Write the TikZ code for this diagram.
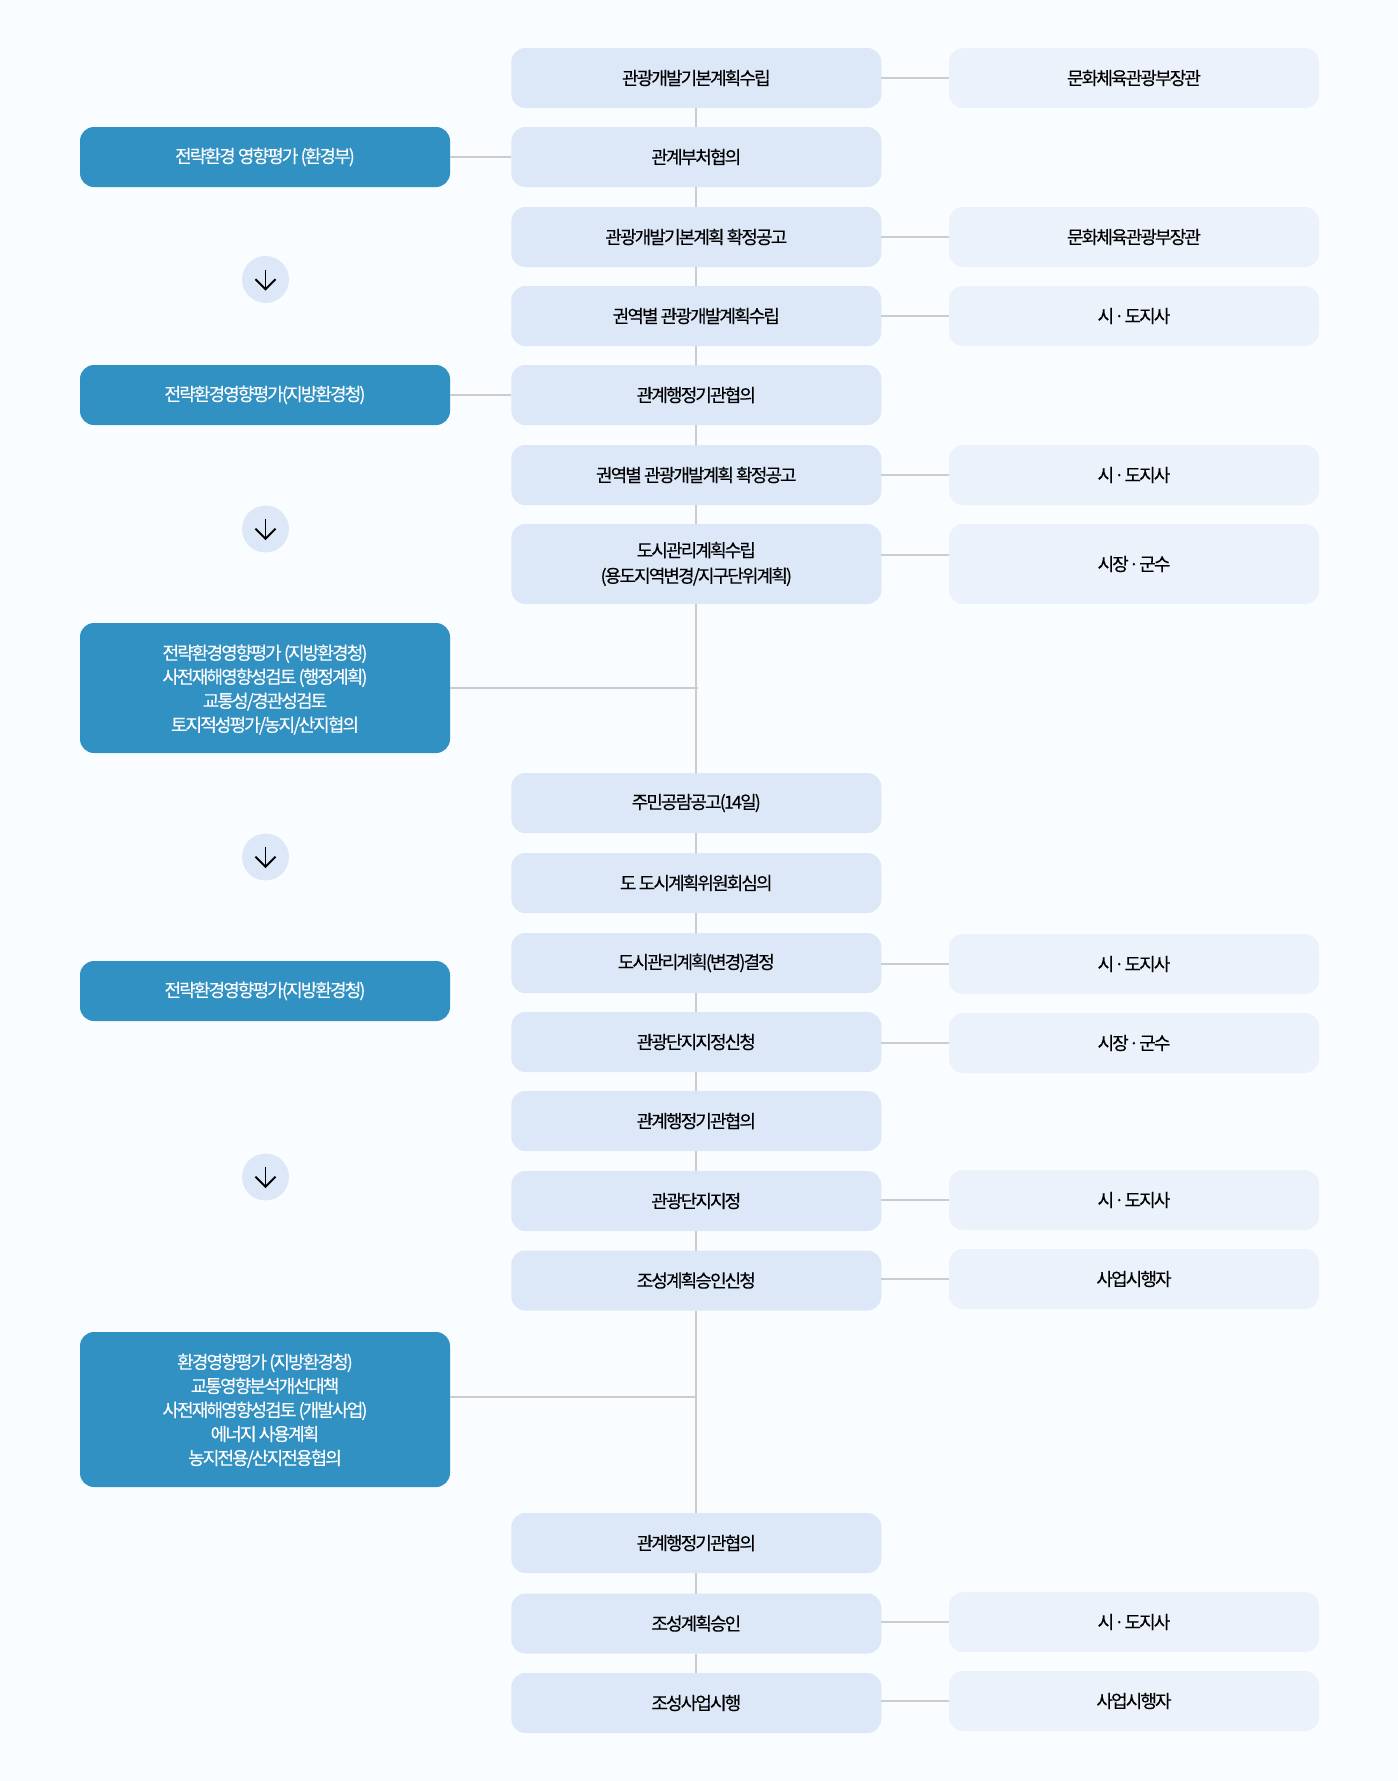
\documentclass[tikz,border=0pt]{standalone}
\usepackage{fontspec}
\setmainfont{Noto Sans CJK KR}[LetterSpace=-10.5,FakeBold=0.2]
\usetikzlibrary{arrows.meta}
\definecolor{pagebg}{HTML}{FAFDFF}
\definecolor{reviewblue}{HTML}{3291C3}
\definecolor{stageblue}{HTML}{DCE8F7}
\definecolor{agencyblue}{HTML}{ECF2FB}
\definecolor{linegray}{HTML}{CCCCCC}
\newcommand{\midsep}{\hspace{-2pt} · \hspace{-2pt}}
\begin{document}
\begin{tikzpicture}[x=1pt,y=-1pt]
        \tikzstyle{box}=[rectangle,rounded corners=14pt,minimum width=370pt,minimum height=60pt,inner sep=0pt,outer sep=0pt,align=center,font=\fontsize{18}{24}\selectfont]
        \tikzstyle{stage}=[box,fill=stageblue,text=black]
        \tikzstyle{agency}=[box,fill=agencyblue,text=black]
        \tikzstyle{review}=[box,fill=reviewblue,text=white]
        \tikzstyle{turn}=[circle,fill=stageblue,minimum size=47pt,inner sep=0pt,outer sep=0pt]
        \tikzstyle{link}=[draw=linegray,line width=2pt]
        \tikzstyle{down}=[draw=black,line width=1.8pt,-{Straight Barb[length=10pt,width=20pt]}]
       \useasboundingbox (0,0) rectangle (1398,1781);
       \fill[pagebg] (0,0) rectangle (1398,1781);
       \begin{scope}
         % middle column
         \node [stage] (c1) at (696.3,78) {\raisebox{-1pt}{관광개발기본계획수립}};
         \node [stage] (c2) at (696.3,157) {\raisebox{-1pt}{관계부처협의}};
         \node [stage] (c3) at (696.3,237) {\raisebox{-1pt}{관광개발기본계획 확정공고}};
         \node [stage] (c4) at (696.3,316) {\raisebox{-1pt}{권역별 관광개발계획수립}};
         \node [stage] (c5) at (696.3,395) {\raisebox{-1pt}{관계행정기관협의}};
         \node [stage] (c6) at (696.3,475) {\raisebox{-1pt}{권역별 관광개발계획 확정공고}};
         \node [stage,minimum height=80pt,font=\fontsize{18}{25.5}\selectfont] (c7) at (696.3,564) {도시관리계획수립\\(용도지역변경/지구단위계획)};
         \node [stage] (c8) at (696.3,803) {\raisebox{-1pt}{주민공람공고(14일)}};
         \node [stage] (c9) at (696.3,883) {\raisebox{-1pt}{도 도시계획위원회심의}};
         \node [stage] (c10) at (696.3,963) {\raisebox{-1pt}{도시관리계획(변경)결정}};
         \node [stage] (c11) at (696.3,1042) {\raisebox{-1pt}{관광단지지정신청}};
         \node [stage] (c12) at (696.3,1121) {\raisebox{-1pt}{관계행정기관협의}};
         \node [stage] (c13) at (696.3,1201) {\raisebox{-1pt}{관광단지지정}};
         \node [stage] (c14) at (696.3,1280.5) {\raisebox{-1pt}{조성계획승인신청}};
         \node [stage] (c15) at (696.3,1543) {\raisebox{-1pt}{관계행정기관협의}};
         \node [stage] (c16) at (696.3,1623.5) {\raisebox{-1pt}{조성계획승인}};
         \node [stage] (c17) at (696.3,1703) {\raisebox{-1pt}{조성사업시행}};
         % right column
         \node [agency] (r1) at (1134,78) {\raisebox{-1pt}{문화체육관광부장관}};
         \node [agency] (r3) at (1134,237) {\raisebox{-1pt}{문화체육관광부장관}};
         \node [agency] (r4) at (1134,316) {\raisebox{-1pt}{시\midsep 도지사}};
         \node [agency] (r6) at (1134,475) {\raisebox{-1pt}{시\midsep 도지사}};
         \node [agency,minimum height=80pt] (r7) at (1134,564) {\raisebox{-1pt}{시장\midsep 군수}};
         \node [agency] (r10) at (1134,964) {\raisebox{-1pt}{시\midsep 도지사}};
         \node [agency] (r11) at (1134,1043) {\raisebox{-1pt}{시장\midsep 군수}};
         \node [agency] (r13) at (1134,1200) {\raisebox{-1pt}{시\midsep 도지사}};
         \node [agency] (r14) at (1134,1279) {\raisebox{-1pt}{사업시행자}};
         \node [agency] (r16) at (1134,1622) {\raisebox{-1pt}{시\midsep 도지사}};
         \node [agency] (r17) at (1134,1701) {\raisebox{-1pt}{사업시행자}};
         % left column
         \node [review] (l1) at (265,157) {\raisebox{-1.5pt}{전략환경 영향평가 (환경부)}};
         \node [review] (l2) at (265,395) {\raisebox{-1.5pt}{전략환경영향평가(지방환경청)}};
         \node [review,minimum height=130pt] (l3) at (265,688) {\rule{0pt}{18.2pt}전략환경영향평가 (지방환경청)\\사전재해영향성검토 (행정계획)\\교통성/경관성검토\\토지적성평가/농지/산지협의};
         \node [review] (l4) at (265,991) {\raisebox{-1.5pt}{전략환경영향평가(지방환경청)}};
         \node [review,minimum height=155pt] (l5) at (265,1409.5) {\rule{0pt}{17.5pt}환경영향평가 (지방환경청)\\교통영향분석개선대책\\사전재해영향성검토 (개발사업)\\에너지 사용계획\\농지전용/산지전용협의};
         % arrows between the reviews
         \node [turn] (a1) at (265.5,279.5) {};
         \node [turn] (a2) at (265.5,529) {};
         \node [turn] (a3) at (265.5,857) {};
         \node [turn] (a4) at (265.5,1177) {};
         \draw[down] ([yshift=10pt]a1.center) -- ([yshift=-11pt]a1.center);
         \draw[down] ([yshift=10pt]a2.center) -- ([yshift=-11pt]a2.center);
         \draw[down] ([yshift=10pt]a3.center) -- ([yshift=-11pt]a3.center);
         \draw[down] ([yshift=10pt]a4.center) -- ([yshift=-11pt]a4.center);
         % junctions
         \coordinate (j1) at (698,688);
         \coordinate (j2) at (697,1397);
         \coordinate (t7) at (949,554.5);
         % middle column links
         \path[link] (c1) edge (c2);
         \path[link] (c2) edge (c3);
         \path[link] (c3) edge (c4);
         \path[link] (c4) edge (c5);
         \path[link] (c5) edge (c6);
         \path[link] (c6) edge (c7);
         \path[link] (c7) edge (c8);
         \path[link] (c8) edge (c9);
         \path[link] (c9) edge (c10);
         \path[link] (c10) edge (c11);
         \path[link] (c11) edge (c12);
         \path[link] (c12) edge (c13);
         \path[link] (c13) edge (c14);
         \path[link] (c14) edge (c15);
         \path[link] (c15) edge (c16);
         \path[link] (c16) edge (c17);
         % side links
         \path[link] (c1) edge (r1);
         \path[link] (c3) edge (r3);
         \path[link] (c4) edge (r4);
         \path[link] (c6) edge (r6);
         \path[link] (c7.east |- t7) edge (t7);
         \path[link] (c10.east |- r10) edge (r10);
         \path[link] (c11.east |- r11) edge (r11);
         \path[link] (c13.east |- r13) edge (r13);
         \path[link] (c14.east |- r14) edge (r14);
         \path[link] (c16.east |- r16) edge (r16);
         \path[link] (c17.east |- r17) edge (r17);
         \path[link] (l1) edge (c2);
         \path[link] (l2) edge (c5);
         \path[link] (l3) edge (j1);
         \path[link] (l5.east |- j2) edge (j2);
        \end{scope}
      \end{tikzpicture}
\end{document}
